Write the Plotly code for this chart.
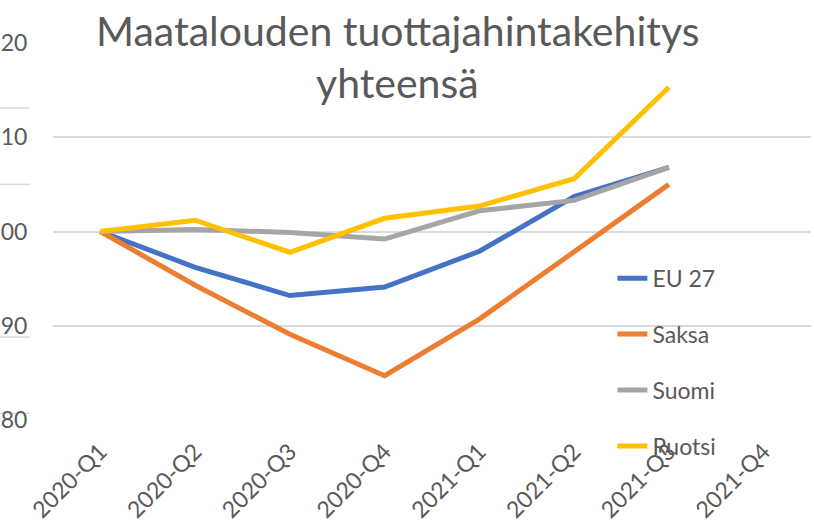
import plotly.graph_objects as go

quarters = ["2020-Q1", "2020-Q2", "2020-Q3", "2020-Q4", "2021-Q1", "2021-Q2", "2021-Q3", "2021-Q4"]
eu27 = [100.0, 96.2, 93.2, 94.1, 97.9, 103.7, 106.8, None]
saksa = [100.0, 94.3, 89.1, 84.7, 90.7, 97.9, 105.0, None]
suomi = [100.0, 100.2, 99.9, 99.2, 102.2, 103.3, 106.8, None]
ruotsi = [100.0, 101.2, 97.8, 101.4, 102.7, 105.6, 115.3, None]

series_names = ["EU 27", "Saksa", "Suomi", "Ruotsi"]
series_values = [eu27, saksa, suomi, ruotsi]
colors = ["#4472C4", "#ED7D31", "#A5A5A5", "#FFC000"]

y_ticks = [80, 90, 100, 110, 120]
stray_lines = [113.1, 105.0, 88.8, 80.7]
title_lines = ["Maatalouden tuottajahintakehitys", "yhteensä"]

FONT = "Lato, 'Open Sans', sans-serif"
TXT = "#595959"

fig = go.Figure()
for i, (name, vals, col) in enumerate(zip(series_names, series_values, colors)):
    fig.add_trace(go.Scatter(
        x=quarters, y=vals, name=name, mode="lines",
        line=dict(color=col, width=5), legendgroup=f"g{i}",
    ))

shapes = []
for yv in stray_lines:
    shapes.append(dict(type="line", xref="paper", yref="y",
                       x0=-53/758, x1=-23/758, y0=yv, y1=yv,
                       line=dict(color="#D9D9D9", width=1.5), layer="below"))

annotations = [
    dict(text=title_lines[0], xref="paper", yref="paper", x=(397-53)/758, y=0.962,
         xanchor="center", yanchor="bottom", showarrow=False,
         font=dict(family=FONT, size=41, color=TXT)),
    dict(text=title_lines[1], xref="paper", yref="paper", x=(397-53)/758, y=0.825,
         xanchor="center", yanchor="bottom", showarrow=False,
         font=dict(family=FONT, size=41, color=TXT)),
]

fig.update_layout(
    width=814, height=523,
    margin=dict(l=53, r=3, t=43, b=103, autoexpand=False),
    paper_bgcolor="white", plot_bgcolor="white",
    font=dict(family=FONT, color=TXT, size=22),
    showlegend=True,
    legend=dict(x=0.738, y=0.433, xanchor="left", yanchor="top",
                bgcolor="rgba(0,0,0,0)", font=dict(size=23, color=TXT),
                tracegroupgap=23, itemwidth=30),
    shapes=shapes,
    annotations=annotations,
    xaxis=dict(type="category", categoryorder="array", categoryarray=quarters,
               range=[-0.5, 7.5], tickangle=-45, showgrid=False,
               showline=False, zeroline=False, automargin=False,
               ticks="outside", ticklen=8, tickcolor="rgba(0,0,0,0)",
               tickfont=dict(size=23, color=TXT)),
    yaxis=dict(range=[80, 120], tickvals=y_ticks, showgrid=True,
               gridcolor="#D9D9D9", gridwidth=1.5, zeroline=False,
               showline=False, automargin=False,
               ticks="outside", ticklen=20, tickcolor="rgba(0,0,0,0)",
               tickfont=dict(size=23, color=TXT)),
)

fig.write_html("out.html",
               config={"displayModeBar": False},
               post_script="document.body.style.margin='0';document.body.style.padding='0';")
